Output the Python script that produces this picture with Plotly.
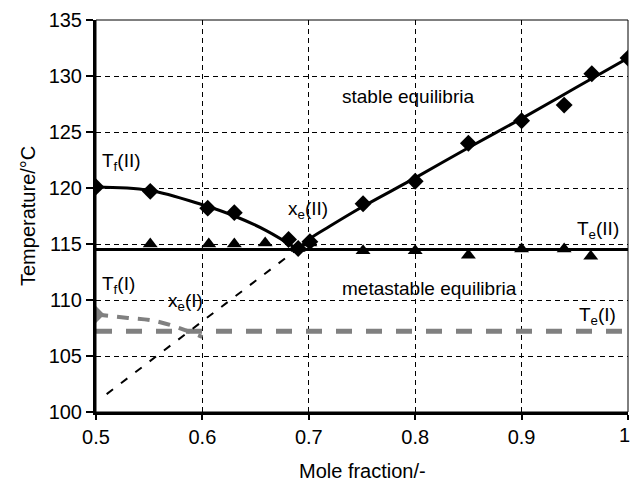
import plotly.graph_objects as go

# Measured data (diamonds: liquidus of form II)
liq2_x = [0.5, 0.551, 0.605, 0.630, 0.681, 0.690, 0.701, 0.751, 0.800, 0.850, 0.900, 0.940, 0.966, 1.0]
liq2_y = [120.1, 119.7, 118.2, 117.8, 115.4, 114.6, 115.2, 118.6, 120.6, 124.0, 126.0, 127.4, 130.2, 131.6]

# Fitted liquidus curves (form II)
fit_left_x = [0.5, 0.55, 0.6, 0.63, 0.66, 0.69]
fit_left_y = [120.1, 119.8, 118.5, 117.5, 116.2, 114.5]
fit_right_x = [0.69, 0.70, 0.72, 0.75, 0.80, 0.85, 0.90, 0.95, 1.0]
fit_right_y = [114.5, 115.4, 116.6, 118.3, 120.9, 123.6, 126.2, 128.9, 131.6]

# Eutectic temperatures (triangles)
eut_x = [0.551, 0.606, 0.630, 0.659, 0.690, 0.701, 0.751, 0.800, 0.850, 0.900, 0.940, 0.965]
eut_y = [115.0, 115.0, 115.0, 115.1, 114.6, 115.1, 114.4, 114.4, 114.0, 114.55, 114.55, 113.9]

Te2 = 114.5
Te1 = 107.2

# Form I liquidus (grey)
liq1_x = [0.5]
liq1_y = [108.7]
fit1_x = [0.5, 0.53, 0.557, 0.587, 0.60]
fit1_y = [108.7, 108.4, 108.1, 107.2, 106.7]

# Metastable extrapolation (black dashed)
meta_x = [0.51, 0.69]
meta_y = [101.6, 114.6]

x_ticks = [0.5, 0.6, 0.7, 0.8, 0.9, 1.0]
x_ticklabels = ["0.5", "0.6", "0.7", "0.8", "0.9", "1"]
y_ticks = [100, 105, 110, 115, 120, 125, 130, 135]
x_title = "Mole fraction/-"
y_title = "Temperature/°C"

FONT = "Liberation Sans, Arial, sans-serif"

fig = go.Figure()

fig.add_trace(go.Scatter(x=[0.5, 1.0], y=[Te1, Te1], mode="lines",
                         line=dict(color="#808080", width=5, dash="16px,14px")))
fig.add_trace(go.Scatter(x=fit1_x, y=fit1_y, mode="lines",
                         line=dict(color="#808080", width=4, dash="12px,9px", shape="spline")))
fig.add_trace(go.Scatter(x=liq1_x, y=liq1_y, mode="markers",
                         marker=dict(symbol="diamond", size=13, color="#808080")))
fig.add_trace(go.Scatter(x=meta_x, y=meta_y, mode="lines",
                         line=dict(color="black", width=2, dash="8px,10px")))
fig.add_trace(go.Scatter(x=[0.5, 1.0], y=[Te2, Te2], mode="lines",
                         line=dict(color="black", width=3)))
fig.add_trace(go.Scatter(x=fit_left_x, y=fit_left_y, mode="lines",
                         line=dict(color="black", width=3, shape="spline")))
fig.add_trace(go.Scatter(x=fit_right_x, y=fit_right_y, mode="lines",
                         line=dict(color="black", width=3, shape="spline")))
fig.add_trace(go.Scatter(x=eut_x, y=eut_y, mode="markers",
                         marker=dict(symbol="triangle-up", size=13, color="black")))
fig.add_trace(go.Scatter(x=liq2_x, y=liq2_y, mode="markers",
                         marker=dict(symbol="diamond", size=13, color="black")))

# thin frame
fig.add_shape(type="rect", xref="paper", yref="paper", x0=0, y0=0, x1=1, y1=1,
              line=dict(color="black", width=1), layer="above")

ann = [
    ("stable equilibria", 0.793, 128.2),
    ("metastable equilibria", 0.813, 111.05),
    ("T<sub>f</sub>(II)", 0.5235, 122.3),
    ("x<sub>e</sub>(II)", 0.699, 118.0),
    ("T<sub>e</sub>(II)", 0.972, 116.25),
    ("T<sub>f</sub>(I)", 0.521, 111.3),
    ("x<sub>e</sub>(I)", 0.584, 109.85),
    ("T<sub>e</sub>(I)", 0.971, 108.57),
]
for t, x, y in ann:
    fig.add_annotation(x=x, y=y, text=t, showarrow=False,
                       font=dict(family=FONT, size=19, color="black"))

# last x tick label sits at the right edge of the page; place it explicitly
fig.add_annotation(x=x_ticks[-1], xref="x", y=0, yref="paper", text=x_ticklabels[-1],
                   showarrow=False, xanchor="center", yanchor="middle",
                   xshift=-4, yshift=-23, font=dict(family=FONT, size=20, color="black"))

# axis titles
fig.add_annotation(x=0.5, xref="paper", y=0, yref="paper", text=x_title,
                   showarrow=False, xanchor="center", yanchor="middle",
                   yshift=-59, font=dict(family=FONT, size=20, color="black"))
fig.add_annotation(x=0, xref="paper", y=0.5, yref="paper", text=y_title,
                   showarrow=False, xanchor="center", yanchor="middle", textangle=-90,
                   xshift=-68, font=dict(family=FONT, size=20, color="black"))

fig.update_layout(
    width=631, height=483,
    margin=dict(l=96, r=3, t=20, b=71, autoexpand=False),
    paper_bgcolor="white", plot_bgcolor="white",
    showlegend=False,
    font=dict(family=FONT, size=20, color="black"),
    xaxis=dict(range=[0.5, 1.0], tickvals=x_ticks,
               ticktext=x_ticklabels[:-1] + [""],
               showline=True, linecolor="black", linewidth=3,
               ticks="outside", ticklen=5, tickwidth=2, tickcolor="black",
               showgrid=True, gridcolor="black", gridwidth=1, griddash="5px,4px",
               zeroline=False, tickfont=dict(size=20), automargin=False),
    yaxis=dict(range=[100, 135], tickvals=y_ticks,
               showline=True, linecolor="black", linewidth=3,
               ticks="outside", ticklen=7, tickwidth=2, tickcolor="black",
               showgrid=True, gridcolor="black", gridwidth=1, griddash="5px,4px",
               zeroline=False, tickfont=dict(size=20), automargin=False),
)

fig.write_html("out.html")
